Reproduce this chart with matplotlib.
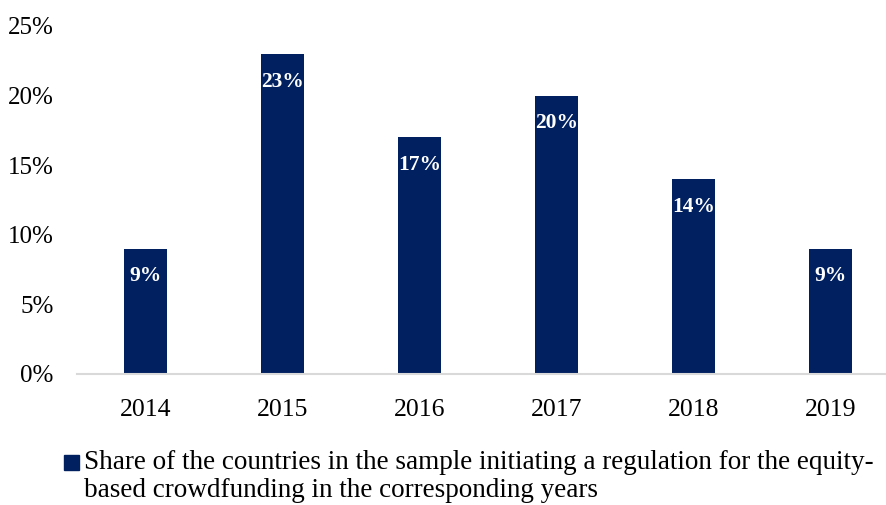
import matplotlib
matplotlib.use("Agg")
import matplotlib.pyplot as plt
from matplotlib.patches import Rectangle

years = ["2014", "2015", "2016", "2017", "2018", "2019"]
shares = [9, 23, 17, 20, 14, 9]
bar_labels = ["9%", "23%", "17%", "20%", "14%", "9%"]
yticks = [0, 5, 10, 15, 20, 25]
ytick_labels = ["0%", "5%", "10%", "15%", "20%", "25%"]
legend_text = ("Share of the countries in the sample initiating a regulation for the equity-\n"
               "based crowdfunding in the corresponding years")

navy = "#002060"
plt.rcParams["font.family"] = ["Liberation Serif", "DejaVu Serif"]

fig = plt.figure(figsize=(8.87, 5.05), dpi=100)
ax = fig.add_axes([77/887, (505-374)/505, 1 - 77/887, (374-26)/505])

x = list(range(len(years)))
bars = ax.bar(x, shares, width=0.314, color=navy, zorder=2)
for xi, v, lab in zip(x, shares, bar_labels):
    ax.annotate(lab, (xi, v), xytext=(0, -20), textcoords="offset points",
                ha="center", va="center", color="white", fontsize=15.5, fontweight="bold")

ax.set_xlim(-0.5, 5.41)
ax.set_ylim(0, 25)
ax.set_xticks(x)
ax.set_xticklabels(years, fontsize=18.5)
ax.set_yticks(yticks)
ax.set_yticklabels(ytick_labels, fontsize=18)
ax.tick_params(axis="both", length=0)
ax.tick_params(axis="x", pad=18)
ax.tick_params(axis="y", pad=17)
for s in ["top", "right", "left"]:
    ax.spines[s].set_visible(False)
ax.spines["bottom"].set_color("#d9d9d9")
ax.spines["bottom"].set_linewidth(1.5)

fig.patches.append(Rectangle((64/887, (505-470)/505), 15/887, 15/505,
                             transform=fig.transFigure, color=navy))
fig.text(84/887, (505-450)/505, legend_text, fontsize=19.5, va="top",
         ha="left", linespacing=1.18, transform=fig.transFigure)

fig.savefig("out.png", dpi=100)
